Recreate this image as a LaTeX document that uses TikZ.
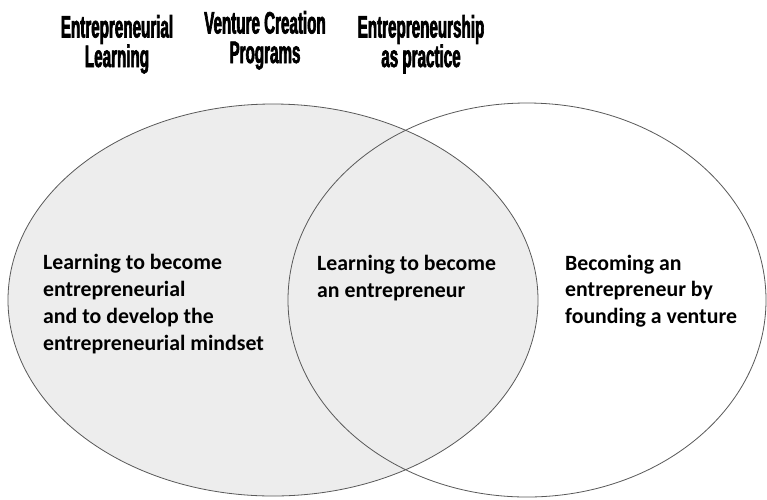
\documentclass[tikz,border=0pt]{standalone}
\usepackage{fontspec}
\setmainfont{Carlito}
\newfontfamily\headfont[FakeStretch=0.49, FakeBold=2]{Liberation Sans}
\usetikzlibrary{positioning}

\begin{document}
\begin{tikzpicture}[x=1pt, y=-1pt,
  head/.style={font=\headfont\bfseries\fontsize{31}{29.5}\selectfont,
    align=center, anchor=base, inner sep=0pt},
  body/.style={font=\bfseries\fontsize{21.8}{26.7}\selectfont,
    align=left, anchor=base west, inner sep=0pt},
  rim/.style={draw=black!65, line width=0.8pt}]
%%── Canvas ───────────────────────────────────────────────
\fill[white] (0,0) rectangle (767,499);
\useasboundingbox (0,0) rectangle (767,499);
%%── Sets ─────────────────────────────────────────────────
\coordinate (learnC) at (273,300);
\coordinate (practC) at (527,300);
\fill[black!7] (learnC) ellipse [x radius=265, y radius=196];
\draw[rim] (practC) ellipse [x radius=239, y radius=197];
\draw[rim] (learnC) ellipse [x radius=265, y radius=196];
%%── Headings (anchored on the last line) ─────────────────
\node[head] (learnHead)   at (117,67) {Entrepreneurial\\Learning};
\node[head] (ventureHead) at (265,63) {Venture Creation\\Programs};
\node[head] (practHead)   at (421,67) {Entrepreneurship\\as practice};
%%── Set contents ─────────────────────────────────────────
\node[body] (learnTxt) at (43,350)
  {Learning to become\\entrepreneurial\\and to develop the\\entrepreneurial mindset};
\node[body] (ventureTxt) at (317,297)
  {Learning to become\\an entrepreneur};
\node[body] (practTxt) at (565,323.4)
  {Becoming an\\entrepreneur by\\founding a venture};
\end{tikzpicture}
\end{document}
